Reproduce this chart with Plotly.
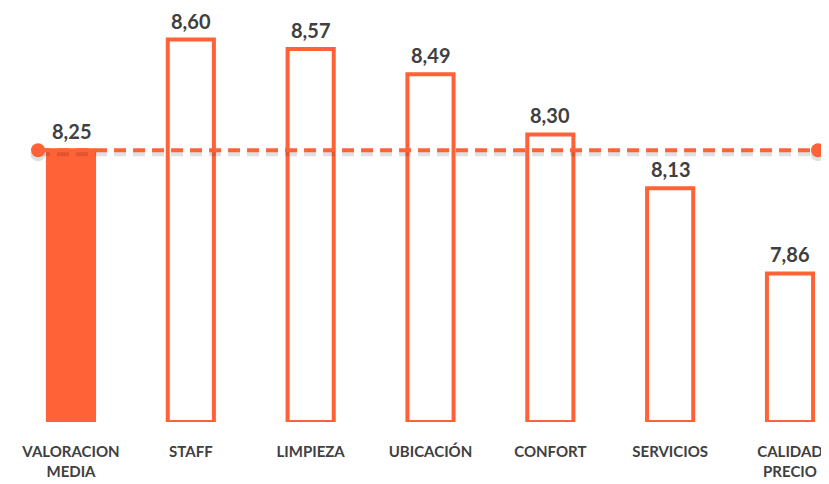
import plotly.graph_objects as go

categories = ["VALORACION<br>MEDIA", "STAFF", "LIMPIEZA", "UBICACIÓN", "CONFORT", "SERVICIOS", "CALIDAD<br>PRECIO"]
values = [8.25, 8.60, 8.57, 8.49, 8.30, 8.13, 7.86]
media = 8.25

orange = "#FF6236"
gray_text = "#404040"
xs = list(range(len(categories)))
y_min = 7.39

fig = go.Figure()

# first bar filled, the rest outlined
fills = [orange] + ["white"] * (len(values) - 1)
fig.add_trace(go.Bar(
    x=xs, y=[v - y_min for v in values], base=y_min, width=0.385,
    marker=dict(color=fills, line=dict(color=orange, width=4)),
    hoverinfo="skip",
))

# mean line: shadow + dashed line with dot ends
line_x = [-0.275, 6.234]
fig.add_trace(go.Scatter(
    x=line_x, y=[media - 0.011] * 2, mode="lines+markers",
    line=dict(color="rgba(0,0,0,0.12)", width=5, dash="12px,7px"),
    marker=dict(size=15, color="rgba(0,0,0,0.12)"), hoverinfo="skip",
))
fig.add_trace(go.Scatter(
    x=line_x, y=[media] * 2, mode="lines+markers",
    line=dict(color=orange, width=4, dash="12px,7px"),
    marker=dict(size=14, color=orange), hoverinfo="skip",
))

for x, v in zip(xs, values):
    fig.add_annotation(
        x=x, y=v, text=f"<b>{v:.2f}</b>".replace(".", ","),
        showarrow=False, yanchor="bottom", yshift=5,
        font=dict(family="Lato", size=20, color=gray_text),
    )

fig.update_layout(
    width=821, height=476,
    margin=dict(l=0, r=0, t=0, b=62, autoexpand=False),
    plot_bgcolor="white", paper_bgcolor="white",
    showlegend=False,
    xaxis=dict(
        range=[-0.5257, 6.3255], tickvals=xs,
        ticktext=[f"<b>{c}</b>" for c in categories],
        tickfont=dict(family="Lato", size=15, color=gray_text),
        showgrid=False, zeroline=False, showline=False, ticks="",
        ticklabelstandoff=19, automargin=False,
    ),
    yaxis=dict(range=[y_min, 8.700], visible=False, showgrid=False),
)

fig.write_html("out.html")
